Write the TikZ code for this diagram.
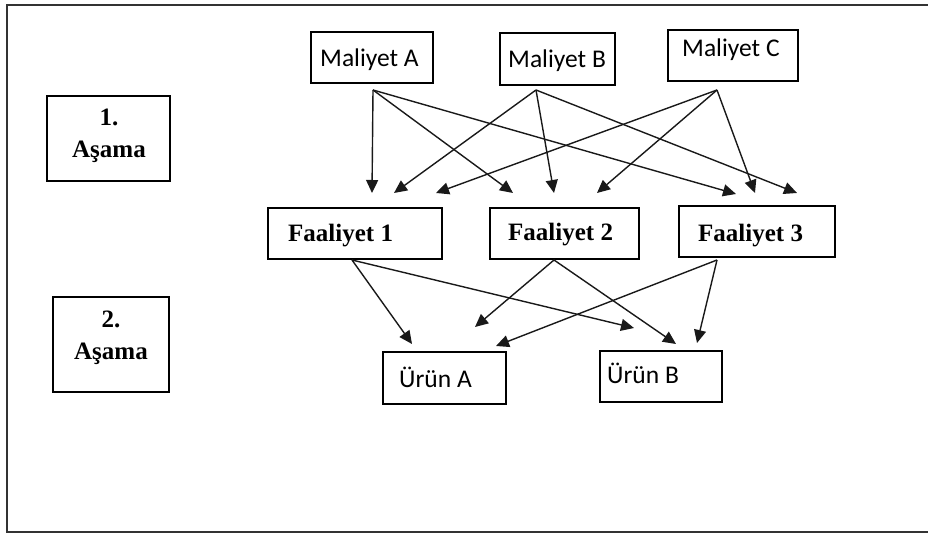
\documentclass[tikz,border=0pt]{standalone}
\usepackage{fontspec}
\setmainfont{Liberation Serif}
\newfontfamily\calibrifont{Carlito}
\usetikzlibrary{arrows.meta}
\begin{document}
\begin{tikzpicture}[x=1pt,y=-1pt,
  box/.style={draw=black,line width=1.2pt,inner sep=0pt,fill=none},
  costtxt/.style={anchor=base west,inner sep=0pt,font=\calibrifont\fontsize{25.5}{30}\selectfont},
  acttxt/.style={anchor=base west,inner sep=0pt,font=\bfseries\fontsize{25}{30}\selectfont},
  stagetxt/.style={anchor=base,inner sep=0pt,font=\bfseries\fontsize{25}{30}\selectfont},
  flow/.style={draw=black!90,line width=1.4pt,-{Triangle[length=13pt,width=12pt]}}]
\useasboundingbox (0,0) rectangle (928,534);
% outer frame (right side runs off the page)
\draw[line width=2pt,black!80] (940,5) -- (7,5) -- (7,532) -- (940,532);

% stage boxes
\node[box,minimum width=123,minimum height=85] (st1) at (108.5,138.5) {};
\node[stagetxt] (st1a) at (109,126) {1.};
\node[stagetxt] (st1b) at (109,158) {Aşama};
\node[box,minimum width=116,minimum height=95] (st2) at (111,344.5) {};
\node[stagetxt] (st2a) at (111,327) {2.};
\node[stagetxt] (st2b) at (111,359) {Aşama};

% cost boxes
\node[box,minimum width=122,minimum height=51] (mA) at (372,57.5) {};
\node[costtxt] (mAt) at (320,66.5) {Maliyet A};
\node[box,minimum width=115,minimum height=52] (mB) at (557.5,59) {};
\node[costtxt] (mBt) at (508,68) {Maliyet B};
\node[box,minimum width=130,minimum height=51] (mC) at (733,55.5) {};
\node[costtxt] (mCt) at (682,57) {Maliyet C};

% activity boxes
\node[box,minimum width=174,minimum height=51] (f1) at (355,233.5) {};
\node[acttxt] (f1t) at (288,241.5) {Faaliyet 1};
\node[box,minimum width=149,minimum height=51] (f2) at (564.5,233.5) {};
\node[acttxt] (f2t) at (508,241) {Faaliyet 2};
\node[box,minimum width=156,minimum height=51] (f3) at (757,231.5) {};
\node[acttxt] (f3t) at (698,241.5) {Faaliyet 3};

% product boxes
\node[box,minimum width=123,minimum height=52] (uA) at (444.5,378) {};
\node[costtxt] (uAt) at (399,387) {Ürün A};
\node[box,minimum width=122,minimum height=51] (uB) at (661,376.5) {};
\node[costtxt] (uBt) at (607,383) {Ürün B};

% connector start points below the boxes
\coordinate (sA) at (373,90);
\coordinate (sB) at (536,90);
\coordinate (sC) at (717,90);
\coordinate (s1) at (352,260);
\coordinate (s2) at (554,260);
\coordinate (s3) at (717,260);

% arrow tips above the activity row
\coordinate (t1) at (372,193);
\coordinate (t2) at (394,193);
\coordinate (t3) at (436,193);
\coordinate (t4) at (513,193);
\coordinate (t5) at (554,193);
\coordinate (t6) at (597,193);
\coordinate (t7) at (736,194);
\coordinate (t8) at (755,193);
\coordinate (t9) at (797,193);

% arrow tips above the product row
\coordinate (u1) at (412,344);
\coordinate (u2) at (475,327);
\coordinate (u3) at (496,346);
\coordinate (u4) at (634,328);
\coordinate (u5) at (676,344);
\coordinate (u6) at (697,343);

% stage 1: costs to activities
\draw[flow] (sA) -- (t1);
\draw[flow] (sA) -- (t4);
\draw[flow] (sA) -- (t7);
\draw[flow] (sB) -- (t2);
\draw[flow] (sB) -- (t5);
\draw[flow] (sB) -- (t9);
\draw[flow] (sC) -- (t3);
\draw[flow] (sC) -- (t6);
\draw[flow] (sC) -- (t8);

% stage 2: activities to products
\draw[flow] (s1) -- (u1);
\draw[flow] (s1) -- (u4);
\draw[flow] (s2) -- (u2);
\draw[flow] (s2) -- (u5);
\draw[flow] (s3) -- (u3);
\draw[flow] (s3) -- (u6);
\end{tikzpicture}
\end{document}
